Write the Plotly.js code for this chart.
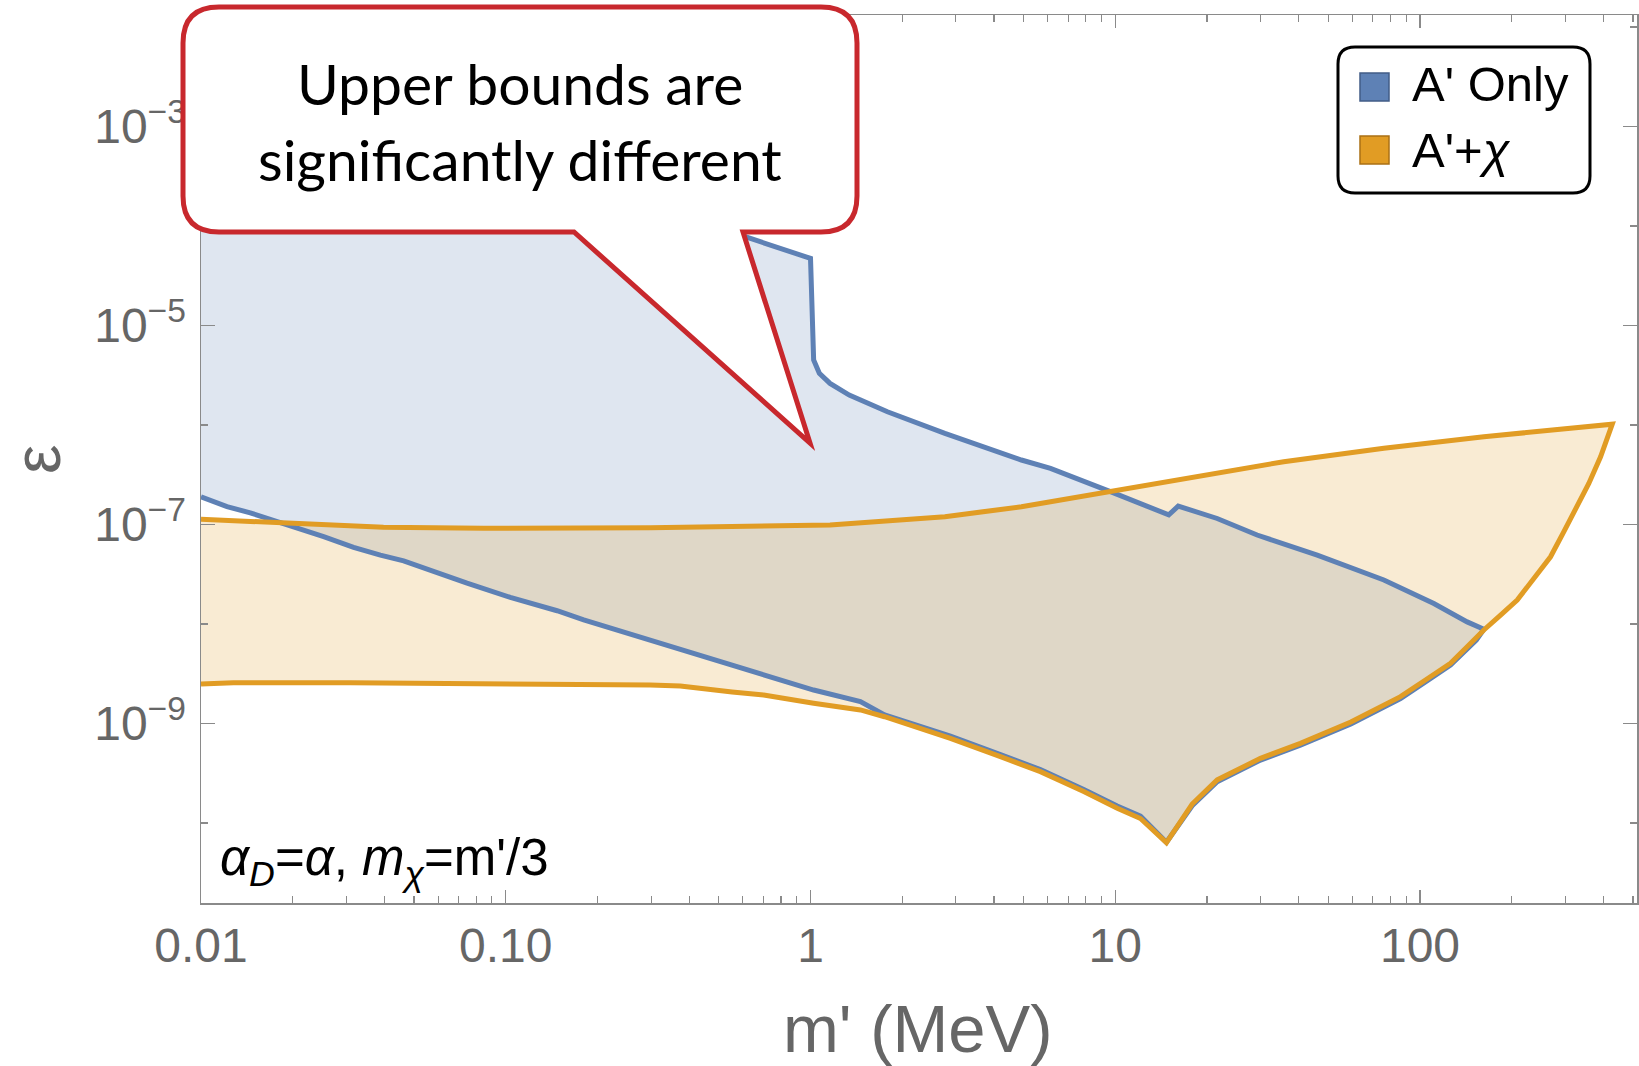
<!DOCTYPE html>
<html>
<head>
<meta charset="utf-8">
<script src="https://cdn.plot.ly/plotly-3.0.1.min.js"></script>
<style>
html,body{margin:0;padding:0;background:#ffffff;}
#chart{width:1639px;height:1066px;}
</style>
</head>
<body>
<div id="chart"></div>
<script>
// ---------------- data (m' in MeV, epsilon) ----------------
// A' Only : upper boundary (left -> right)
const aOnlyUpperMass = [0.01, 0.614, 1.0, 1.024, 1.069, 1.159, 1.340, 1.788, 2.76, 4.92, 6.13, 9.64, 14.98, 16.09, 21.6, 29.2, 46.0, 76.1, 111.0, 142.8, 162.0];
const aOnlyUpperEps  = [5.1e-3, 7.8e-5, 4.73e-5, 4.5e-6, 3.31e-6, 2.62e-6, 2.00e-6, 1.36e-6, 8.26e-7, 4.45e-7, 3.67e-7, 2.14e-7, 1.25e-7, 1.53e-7, 1.15e-7, 7.84e-8, 4.93e-8, 2.77e-8, 1.61e-8, 1.05e-8, 8.85e-9];
// A' Only : lower boundary (left -> right)
const aOnlyLowerMass = [0.01, 0.01217, 0.01451, 0.01866, 0.02526, 0.03168, 0.03878, 0.04623, 0.058, 0.07464, 0.1035, 0.1474, 0.1802, 0.2318, 0.2983, 0.619, 1.024, 1.458, 1.75, 2.878, 4.20, 5.68, 7.88, 10.15, 12.10, 14.72, 17.88, 21.6, 29.96, 40.5, 59.3, 86.3, 104.2, 125.9, 142.8, 153.0];
const aOnlyLowerEps  = [1.90e-7, 1.51e-7, 1.31e-7, 1.03e-7, 7.54e-8, 5.90e-8, 4.93e-8, 4.32e-8, 3.36e-8, 2.57e-8, 1.85e-8, 1.36e-8, 1.10e-8, 8.57e-9, 6.91e-9, 3.45e-9, 2.17e-9, 1.66e-9, 1.22e-9, 7.45e-10, 4.87e-10, 3.44e-10, 2.17e-10, 1.48e-10, 1.17e-10, 6.4e-11, 1.49e-10, 2.60e-10, 4.29e-10, 6.07e-10, 9.9e-10, 1.78e-9, 2.62e-9, 3.87e-9, 5.65e-9, 6.9e-9];
// A'+chi : upper boundary (left -> right)
const aChiUpperMass = [0.01, 0.01862, 0.0397, 0.0844, 0.298, 1.159, 2.76, 4.92, 6.13, 9.64, 16.79, 35.7, 76.1, 162.0, 427.4];
const aChiUpperEps  = [1.13e-7, 1.03e-7, 9.38e-8, 9.16e-8, 9.29e-8, 9.89e-8, 1.20e-7, 1.51e-7, 1.69e-7, 2.17e-7, 2.91e-7, 4.28e-7, 5.83e-7, 7.62e-7, 1.02e-6];
// A'+chi : lower boundary (left -> right)
const aChiLowerMass = [0.01, 0.01277, 0.0309, 0.0844, 0.298, 0.374, 0.553, 0.702, 1.024, 1.458, 1.75, 2.878, 4.20, 5.68, 7.88, 10.15, 12.10, 14.72, 17.88, 21.6, 29.96, 40.5, 59.3, 86.3, 104.2, 125.9, 142.8, 162.0, 183.8, 208.4, 236.4, 268.1, 296.5, 328.1, 358.0, 391.3];
const aChiLowerEps  = [2.49e-9, 2.57e-9, 2.57e-9, 2.53e-9, 2.44e-9, 2.38e-9, 2.07e-9, 1.93e-9, 1.60e-9, 1.37e-9, 1.17e-9, 7.10e-10, 4.64e-10, 3.28e-10, 2.07e-10, 1.41e-10, 1.11e-10, 6.34e-11, 1.55e-10, 2.71e-10, 4.47e-10, 6.32e-10, 1.035e-9, 1.86e-9, 2.74e-9, 4.03e-9, 5.91e-9, 8.71e-9, 1.23e-8, 1.74e-8, 2.88e-8, 4.74e-8, 8.47e-8, 1.51e-7, 2.59e-7, 4.80e-7];

const seriesNames = ["A' Only", "A'+<i>χ</i>"];
const xTickVals = [0.01, 0.1, 1, 10, 100];
const xTickText = ["0.01", "0.10", "1", "10", "100"];
const yTickVals = [1e-3, 1e-5, 1e-7, 1e-9];
const yTickText = ["10<sup>−3</sup>", "10<sup>−5</sup>", "10<sup>−7</sup>", "10<sup>−9</sup>"];
const yMinorVals = [1e-2, 1e-4, 1e-6, 1e-8, 1e-10];
const calloutLines = ["Upper bounds are", "significantly different"];
const noteText = "<i>α</i><sub><i>D</i></sub>=<i>α</i>, <i>m</i><sub><i>χ</i></sub>=m'/3";

// ---------------- styling ----------------
const BLUE = 'rgb(94,129,181)';
const ORANGE = 'rgb(225,156,36)';
const GRAY = '#666666';
const AXC = '#8a8a8a';

// minor x ticks (2..9 per decade)
const xMinorVals = [];
for (let d = -2; d <= 2; d++) for (let k = 2; k <= 9; k++) xMinorVals.push(k * Math.pow(10, d));

function closedPath(uM, uE, lM, lE) {
  return {x: uM.concat(lM.slice().reverse()), y: uE.concat(lE.slice().reverse())};
}
const bluePoly = closedPath(aOnlyUpperMass, aOnlyUpperEps, aOnlyLowerMass, aOnlyLowerEps);
const orangePoly = closedPath(aChiUpperMass, aChiUpperEps, aChiLowerMass, aChiLowerEps);

const traces = [
  {x: bluePoly.x, y: bluePoly.y, type: 'scatter', mode: 'lines', fill: 'toself',
   fillcolor: 'rgba(94,129,181,0.2)', line: {width: 0, color: BLUE}, hoverinfo: 'skip', showlegend: false},
  {x: orangePoly.x, y: orangePoly.y, type: 'scatter', mode: 'lines', fill: 'toself',
   fillcolor: 'rgba(225,156,36,0.2)', line: {width: 0, color: ORANGE}, hoverinfo: 'skip', showlegend: false},
  {x: bluePoly.x, y: bluePoly.y, type: 'scatter', mode: 'lines', name: seriesNames[0],
   line: {width: 5, color: BLUE, shape: 'linear'}, showlegend: false},
  {x: orangePoly.x, y: orangePoly.y, type: 'scatter', mode: 'lines', name: seriesNames[1],
   line: {width: 5, color: ORANGE, shape: 'linear'}, showlegend: false}
];

// pixel -> paper helpers for decorations
const PL = 201, PR = 1637, PT = 15, PB = 903;
const px = X => (X - PL) / (PR - PL);
const py = Y => (PB - Y) / (PB - PT);
const P = (X, Y) => px(X).toFixed(5) + ',' + py(Y).toFixed(5);

function roundRect(L, T, R, B, r) {
  return 'M' + P(L + r, T) + ' L' + P(R - r, T) + ' Q' + P(R, T) + ' ' + P(R, T + r) +
    ' L' + P(R, B - r) + ' Q' + P(R, B) + ' ' + P(R - r, B) +
    ' L' + P(L + r, B) + ' Q' + P(L, B) + ' ' + P(L, B - r) +
    ' L' + P(L, T + r) + ' Q' + P(L, T) + ' ' + P(L + r, T) + ' Z';
}
function calloutPath(L, T, R, B, r, baseR, tipX, tipY, baseL) {
  return 'M' + P(L + r, T) + ' L' + P(R - r, T) + ' Q' + P(R, T) + ' ' + P(R, T + r) +
    ' L' + P(R, B - r) + ' Q' + P(R, B) + ' ' + P(R - r, B) +
    ' L' + P(baseR, B) + ' L' + P(tipX, tipY) + ' L' + P(baseL, B) +
    ' L' + P(L + r, B) + ' Q' + P(L, B) + ' ' + P(L, B - r) +
    ' L' + P(L, T + r) + ' Q' + P(L, T) + ' ' + P(L + r, T) + ' Z';
}

const shapes = [
  {type: 'path', xref: 'paper', yref: 'paper', layer: 'above',
   path: calloutPath(183, 7, 857, 232, 36, 743, 810, 443, 574),
   fillcolor: '#ffffff', line: {color: 'rgb(200,40,45)', width: 5}},
  {type: 'path', xref: 'paper', yref: 'paper', layer: 'above',
   path: roundRect(1338, 47, 1590, 193, 17),
   fillcolor: '#ffffff', line: {color: '#000000', width: 3}},
  {type: 'rect', xref: 'paper', yref: 'paper', layer: 'above',
   x0: px(1360), x1: px(1389), y0: py(101), y1: py(73),
   fillcolor: BLUE, line: {color: 'rgb(66,92,135)', width: 1.5}},
  {type: 'rect', xref: 'paper', yref: 'paper', layer: 'above',
   x0: px(1360), x1: px(1389), y0: py(164), y1: py(136),
   fillcolor: ORANGE, line: {color: 'rgb(170,112,20)', width: 1.5}}
];

const annotations = [
  {xref: 'paper', yref: 'paper', x: px(520), y: py(83), text: calloutLines[0], showarrow: false,
   xanchor: 'center', yanchor: 'middle', font: {family: 'Lato', size: 57, color: '#000'}},
  {xref: 'paper', yref: 'paper', x: px(520), y: py(159), text: calloutLines[1], showarrow: false,
   xanchor: 'center', yanchor: 'middle', font: {family: 'Lato', size: 57, color: '#000'}},
  {xref: 'paper', yref: 'paper', x: px(1410), y: py(84), text: seriesNames[0], showarrow: false,
   xanchor: 'left', yanchor: 'middle', font: {family: 'Liberation Sans', size: 49, color: '#000'}},
  {xref: 'paper', yref: 'paper', x: px(1410), y: py(150), text: seriesNames[1], showarrow: false,
   xanchor: 'left', yanchor: 'middle', font: {family: 'Liberation Sans', size: 49, color: '#000'}},
  {xref: 'paper', yref: 'paper', x: px(218), y: py(861), text: noteText, showarrow: false,
   xanchor: 'left', yanchor: 'middle', font: {family: 'Liberation Sans', size: 51, color: '#000'}},
  {xref: 'paper', yref: 'paper', x: px(918), y: py(1028), text: "m' (MeV)", showarrow: false,
   xanchor: 'center', yanchor: 'middle', font: {family: 'Liberation Sans', size: 67, color: GRAY}},
  {xref: 'paper', yref: 'paper', x: px(37), y: py(460), text: 'ε', showarrow: false, textangle: -90,
   xanchor: 'center', yanchor: 'middle', font: {family: 'Liberation Sans', size: 66, color: GRAY}}
];

const tickFont = {family: 'Liberation Sans', size: 48, color: GRAY};

const layout = {
  width: 1639, height: 1066,
  margin: {l: PL, r: 1639 - PR, t: PT, b: 1066 - PB, pad: 0},
  paper_bgcolor: '#ffffff', plot_bgcolor: '#ffffff',
  showlegend: false,
  xaxis: {
    type: 'log', range: [-2, 2.712], showgrid: false, zeroline: false,
    showline: true, linecolor: AXC, linewidth: 1.5, mirror: 'ticks',
    ticks: 'inside', ticklen: 13, tickwidth: 1.3, tickcolor: AXC,
    tickmode: 'array', tickvals: xTickVals, ticktext: xTickText, tickfont: tickFont,
    ticklabelstandoff: 0,
    minor: {tickmode: 'array', tickvals: xMinorVals, ticks: 'inside', ticklen: 7, tickwidth: 1.1, tickcolor: AXC, showgrid: false}
  },
  yaxis: {
    type: 'log', range: [-10.804, -1.879], showgrid: false, zeroline: false,
    showline: true, linecolor: AXC, linewidth: 1.5, mirror: 'ticks',
    ticks: 'inside', ticklen: 14, tickwidth: 1.3, tickcolor: AXC,
    tickmode: 'array', tickvals: yTickVals, ticktext: yTickText, tickfont: tickFont,
    ticklabelstandoff: 4,
    minor: {tickmode: 'array', tickvals: yMinorVals, ticks: 'inside', ticklen: 7, tickwidth: 1.1, tickcolor: AXC, showgrid: false}
  },
  shapes: shapes,
  annotations: annotations
};

Plotly.newPlot('chart', traces, layout, {displayModeBar: false, staticPlot: true});
</script>
</body>
</html>
